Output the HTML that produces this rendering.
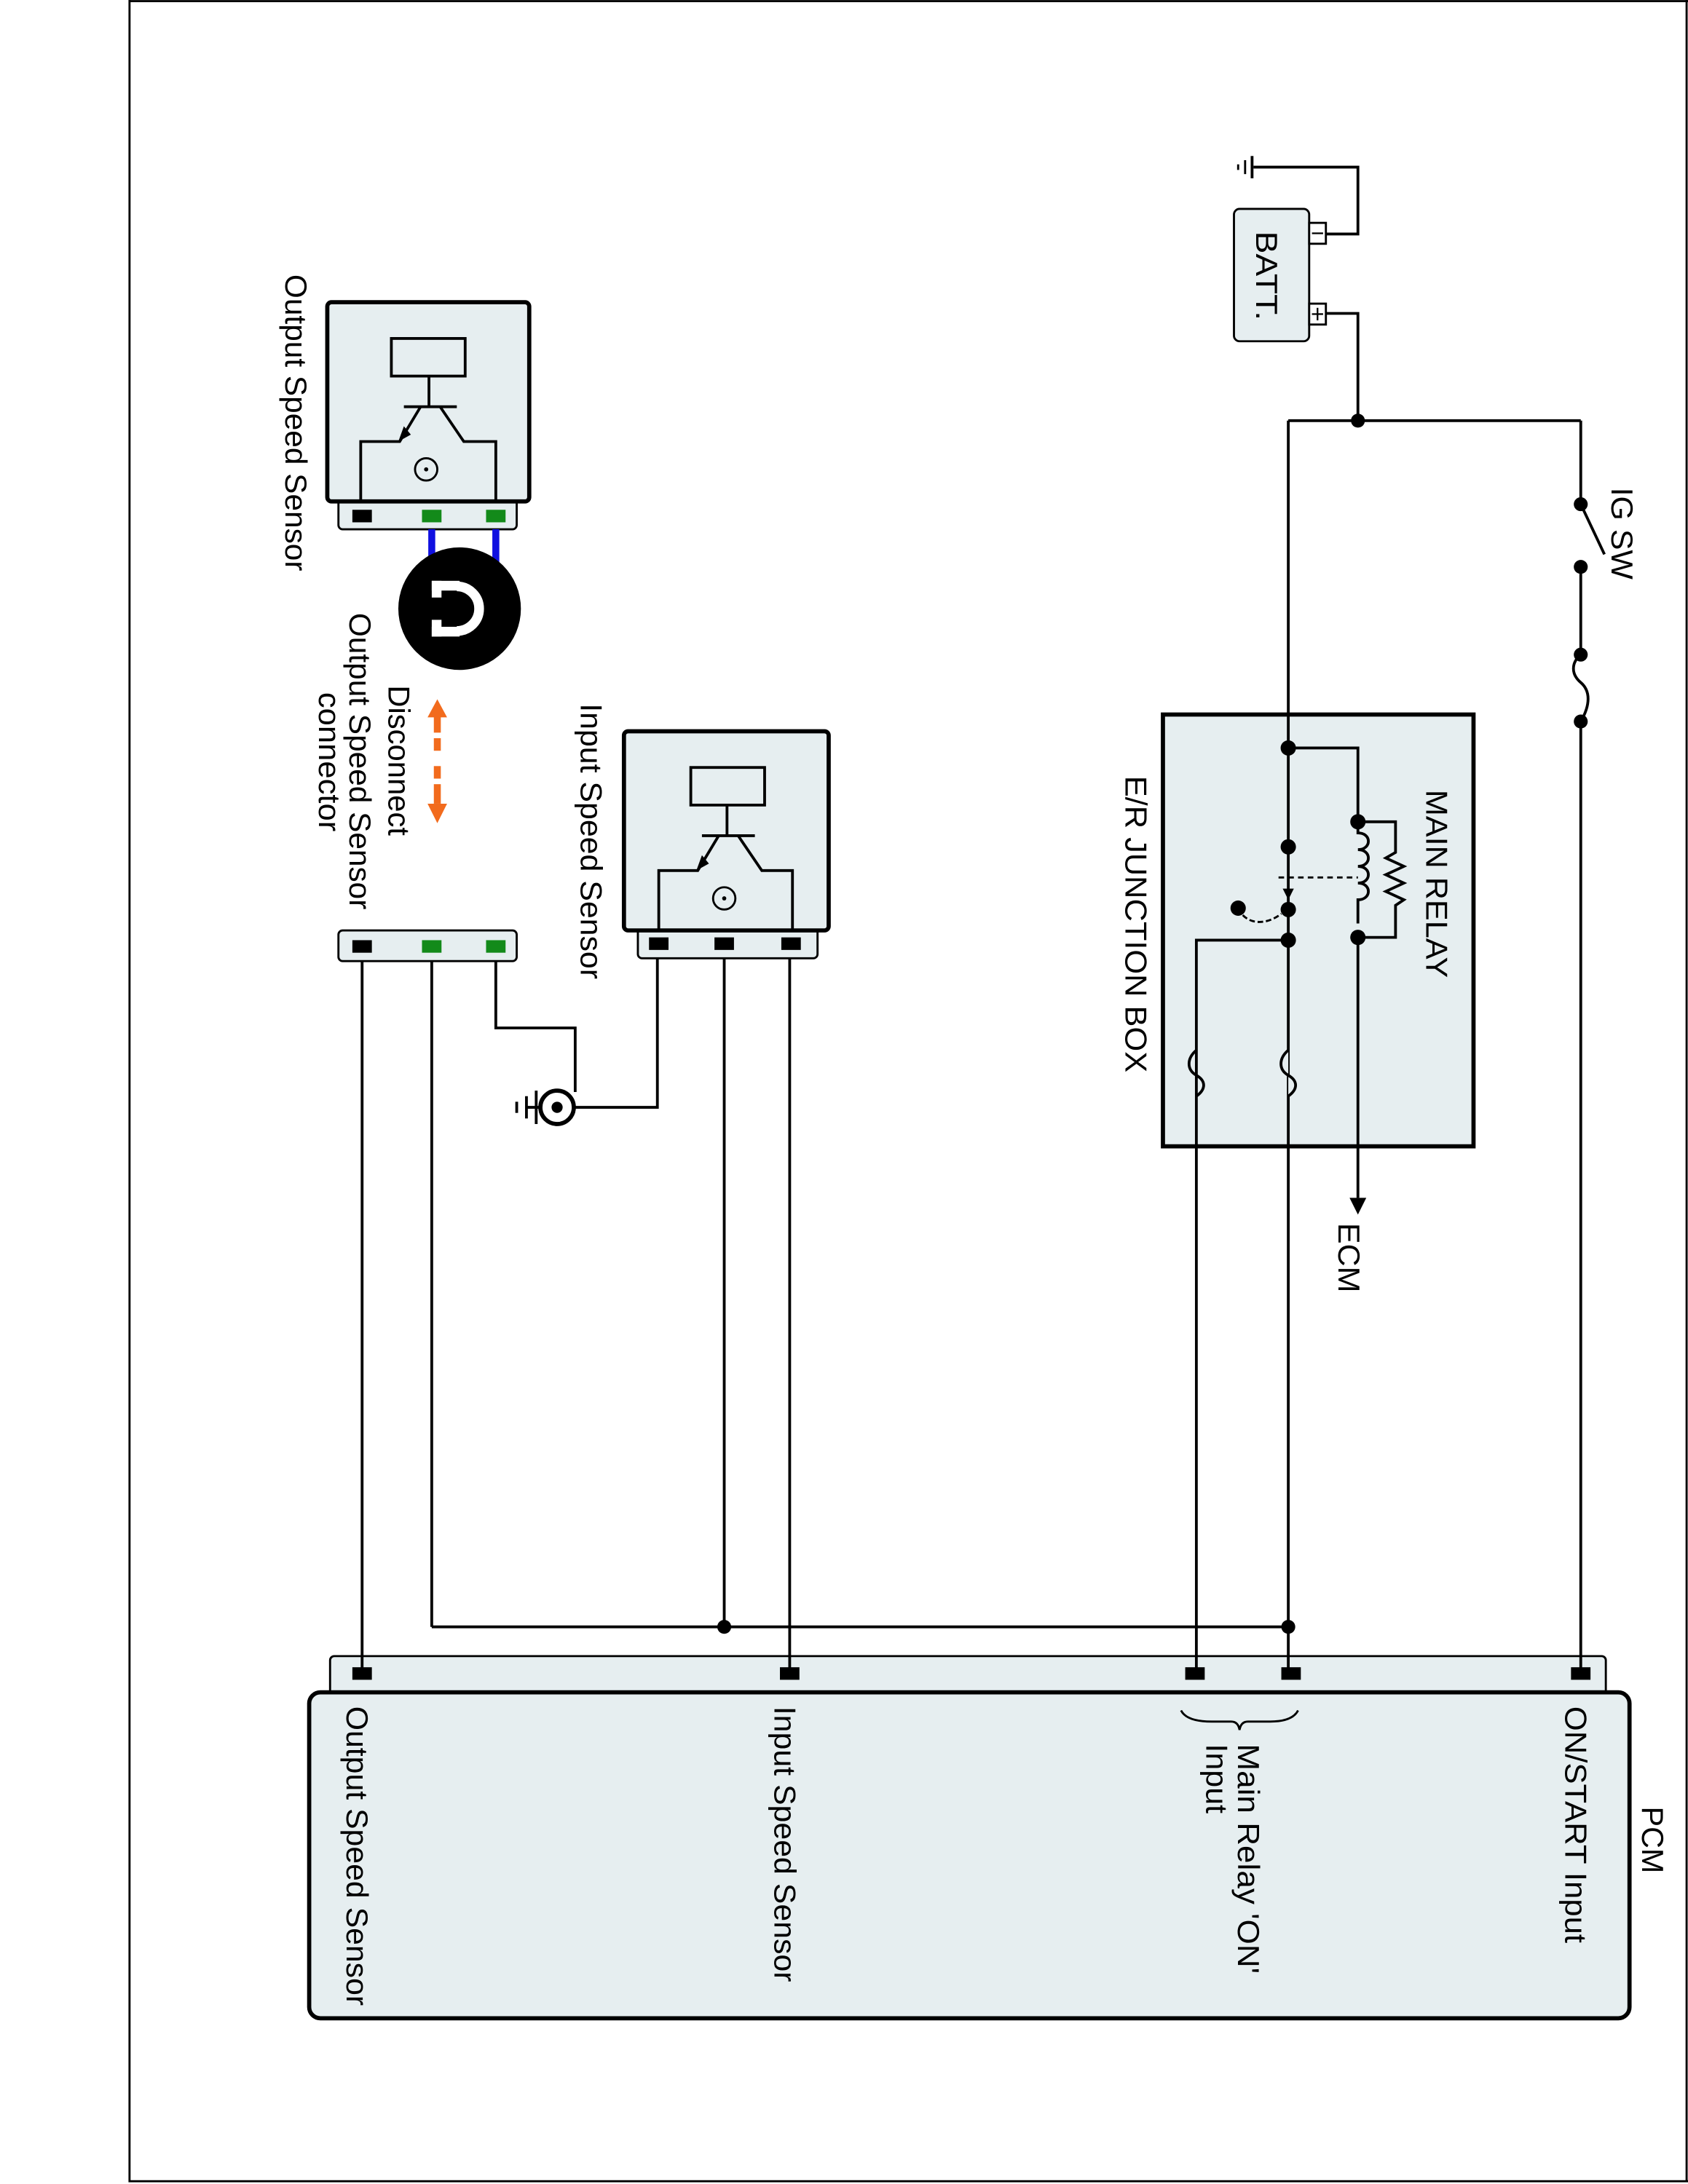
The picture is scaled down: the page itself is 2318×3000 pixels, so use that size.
<!DOCTYPE html>
<html><head><meta charset="utf-8"><style>
html,body{margin:0;padding:0;background:#fff;}
svg{display:block;}
text{font-family:"Liberation Sans",Arial,sans-serif;font-size:22px;fill:#000;}
</style></head><body>
<svg width="2318" height="3000" viewBox="0 0 1212 1568" preserveAspectRatio="none" xmlns="http://www.w3.org/2000/svg">
<rect x="0" y="0" width="1212" height="1568" fill="#fff"/>
<polyline points="93,0 93,1566 1212,1566" fill="none" stroke="#000" stroke-width="1.5"/>
<line x1="93" y1="0.8" x2="1212" y2="0.8" stroke="#000" stroke-width="1.5"/>
<line x1="1211" y1="0" x2="1211" y2="1566" stroke="#000" stroke-width="1.5"/>

<g fill="none" stroke="#000" stroke-width="2">
<rect x="237" y="1189" width="916" height="28" rx="3" fill="#e6eef0" stroke-width="1.5"/>
<rect x="222" y="1215" width="948" height="234" rx="8" fill="#e6eef0" stroke-width="3"/>
<rect x="835" y="513" width="223" height="310" fill="#e6eef0" stroke-width="3"/>

<polyline points="952,168 975,168 975,120 900,120"/>
<polyline points="952,225 975,225 975,302"/>
<line x1="925" y1="302" x2="1135" y2="302"/>
<line x1="925" y1="302" x2="925" y2="1201"/>
<line x1="1135" y1="302" x2="1135" y2="362"/>
<line x1="1135" y1="362" x2="1152" y2="398"/>
<line x1="1135" y1="407" x2="1135" y2="470"/>
<path d="M1135,470 C1128,476 1128,484 1135,490 C1142,496 1142,506 1135,518"/>
<line x1="1135" y1="518" x2="1135" y2="1201"/>

<polyline points="925,537 975,537 975,590"/>
<polyline points="975,590 1002,590 1002,612 995,616 1008,622 995,628 1008,634 995,640 1008,646 1002,650 1002,673 975,673"/>
<path d="M975,590 v8 c10,0 10,12 0,12 c10,0 10,12 0,12 c10,0 10,12 0,12 c10,0 10,12 0,12 v17" />
<line x1="975" y1="673" x2="975" y2="860"/>
<line x1="918" y1="630" x2="975" y2="630" stroke-dasharray="4,3" stroke-width="1.5"/>
<path d="M889,652 C895,665 910,664 920,656" stroke-dasharray="4,2" stroke-width="1.5"/>
<polyline points="925,675 859,675 859,1201"/>
<path d="M859,754 C852,760 852,768 859,772 C866,776 866,782 859,787"/>
<path d="M925,754 C918,760 918,768 925,772 C932,776 932,782 925,787" fill="#e6eef0"/>

<line x1="310" y1="1168" x2="925" y2="1168"/>
<line x1="567" y1="686" x2="567" y2="1201"/>
<line x1="520" y1="686" x2="520" y2="1168"/>
<polyline points="472,686 472,795 412,795"/>
<line x1="260" y1="690" x2="260" y2="1201"/>
<line x1="310" y1="690" x2="310" y2="1168"/>
<polyline points="356,690 356,738 413,738 413,784"/>

<rect x="886" y="150" width="54" height="95" rx="4" fill="#e6eef0" stroke-width="1.5"/>
<rect x="940" y="160" width="12" height="15" fill="#fff" stroke-width="1.5"/>
<rect x="940" y="218" width="12" height="15" fill="#fff" stroke-width="1.5"/>
<line x1="942" y1="167.5" x2="950" y2="167.5" stroke-width="1.2"/>
<line x1="942" y1="225.5" x2="950" y2="225.5" stroke-width="1.2"/>
<line x1="946" y1="221" x2="946" y2="230" stroke-width="1.2"/>
<line x1="899" y1="112" x2="899" y2="128"/>
<line x1="894" y1="115" x2="894" y2="125" stroke-width="1.5"/>
<line x1="889" y1="118" x2="889" y2="122" stroke-width="1.5"/>

<circle cx="400" cy="795" r="12" stroke-width="3"/>
<line x1="388" y1="795" x2="378" y2="795"/>
<line x1="385" y1="783" x2="385" y2="807"/>
<line x1="378" y1="787" x2="378" y2="803"/>
<line x1="371" y1="791" x2="371" y2="799"/>
</g>
<circle cx="400" cy="795" r="4" fill="#000"/>

<g fill="none" stroke="#000" stroke-width="2">
<rect x="243" y="358" width="128" height="22" rx="3" fill="#e6eef0" stroke-width="1.5"/>
<rect x="235" y="217" width="145" height="143" rx="3" fill="#e6eef0" stroke-width="3"/>
<rect x="281" y="243" width="53" height="27"/>
<line x1="308" y1="270" x2="308" y2="292"/>
<line x1="290" y1="292" x2="328" y2="292"/>
<polyline points="302,292 287,317 259,317 259,360"/>
<polyline points="316,292 333,317 356,317 356,360"/>
<circle cx="306" cy="337" r="8" stroke-width="1.5"/>
<line x1="310" y1="380" x2="310" y2="405" stroke="#1010e0" stroke-width="5"/>
<line x1="356" y1="380" x2="356" y2="405" stroke="#1010e0" stroke-width="5"/>
</g>
<polygon points="286,317 290,306 295,312" fill="#000"/>
<circle cx="306" cy="337" r="1.5" fill="#000"/>
<rect x="253" y="366" width="14" height="9" fill="#000"/>
<rect x="303" y="366" width="14" height="9" fill="#138a1a"/>
<rect x="349" y="366" width="14" height="9" fill="#138a1a"/>
<circle cx="330" cy="437" r="44" fill="#000"/>
<path d="M328,421 A16,16 0 1 1 328,453" fill="none" stroke="#fff" stroke-width="7"/>
<rect x="310" y="417" width="20" height="7" fill="#fff"/>
<rect x="310" y="450" width="20" height="7" fill="#fff"/>
<rect x="310" y="417" width="7" height="12" fill="#fff"/>
<rect x="310" y="445" width="7" height="12" fill="#fff"/>

<g fill="none" stroke="#000" stroke-width="2">
<rect x="458" y="666" width="129" height="22" rx="3" fill="#e6eef0" stroke-width="1.5"/>
<rect x="448" y="525" width="147" height="143" rx="3" fill="#e6eef0" stroke-width="3"/>
<rect x="496" y="551" width="53" height="27"/>
<line x1="522" y1="578" x2="522" y2="600"/>
<line x1="504" y1="600" x2="542" y2="600"/>
<polyline points="516,600 501,625 473,625 473,668"/>
<polyline points="530,600 547,625 569,625 569,668"/>
<circle cx="520" cy="645" r="8" stroke-width="1.5"/>
</g>
<polygon points="500,625 504,614 509,620" fill="#000"/>
<circle cx="520" cy="645" r="1.5" fill="#000"/>
<rect x="466" y="673" width="14" height="9" fill="#000"/>
<rect x="513" y="673" width="14" height="9" fill="#000"/>
<rect x="561" y="673" width="14" height="9" fill="#000"/>

<rect x="243" y="668" width="128" height="22" rx="3" fill="#e6eef0" stroke="#000" stroke-width="1.5"/>
<rect x="253" y="675" width="14" height="9" fill="#000"/>
<rect x="303" y="675" width="14" height="9" fill="#138a1a"/>
<rect x="349" y="675" width="14" height="9" fill="#138a1a"/>

<g fill="#f26b1d">
<polygon points="314,502 307,515 321,515"/>
<rect x="311.5" y="514" width="5" height="12"/>
<rect x="311.5" y="530" width="5" height="9"/>
<rect x="311.5" y="550" width="5" height="9"/>
<rect x="311.5" y="563" width="5" height="14"/>
<polygon points="314,591 307,577 321,577"/>
</g>

<g fill="#000">
<rect x="253" y="1197" width="14" height="9"/>
<rect x="560" y="1197" width="14" height="9"/>
<rect x="851" y="1197" width="14" height="9"/>
<rect x="920" y="1197" width="14" height="9"/>
<rect x="1128" y="1197" width="14" height="9"/>
<circle cx="975" cy="302" r="5"/>
<circle cx="1135" cy="362" r="5"/>
<circle cx="1135" cy="407" r="5"/>
<circle cx="1135" cy="470" r="5"/>
<circle cx="1135" cy="518" r="5"/>
<circle cx="925" cy="537" r="5.5"/>
<circle cx="975" cy="590" r="5.5"/>
<circle cx="925" cy="608" r="5.5"/>
<circle cx="925" cy="653" r="5.5"/>
<circle cx="925" cy="675" r="5.5"/>
<circle cx="975" cy="673" r="5.5"/>
<circle cx="889" cy="652" r="5.5"/>
<circle cx="925" cy="1168" r="5"/>
<circle cx="520" cy="1168" r="5"/>
<polygon points="921,638 929,638 925,646"/>
<polygon points="969,860 981,860 975,872"/>
</g>
<path d="M848,1228 Q852,1236 870,1236 L884,1236 Q889,1236 890,1242 Q891,1236 896,1236 L912,1236 Q928,1236 932,1228" fill="none" stroke="#000" stroke-width="1.5"/>

<g>
<text transform="translate(205,197) rotate(90)" textLength="213" lengthAdjust="spacingAndGlyphs">Output Speed Sensor</text>
<text transform="translate(279,492) rotate(90)" textLength="108" lengthAdjust="spacingAndGlyphs">Disconnect</text>
<text transform="translate(251,440) rotate(90)" textLength="213" lengthAdjust="spacingAndGlyphs">Output Speed Sensor</text>
<text transform="translate(229,497) rotate(90)" textLength="100" lengthAdjust="spacingAndGlyphs">connector</text>
<text transform="translate(417,505) rotate(90)" textLength="198" lengthAdjust="spacingAndGlyphs">Input Speed Sensor</text>
<text transform="translate(1024,567) rotate(90)" textLength="135" lengthAdjust="spacingAndGlyphs">MAIN RELAY</text>
<text transform="translate(808,557) rotate(90)" textLength="213" lengthAdjust="spacingAndGlyphs">E/R JUNCTION BOX</text>
<text transform="translate(961,878) rotate(90)" textLength="50" lengthAdjust="spacingAndGlyphs">ECM</text>
<text transform="translate(1157,350) rotate(90)" textLength="66" lengthAdjust="spacingAndGlyphs">IG SW</text>
<text transform="translate(902,166) rotate(90)" textLength="64" lengthAdjust="spacingAndGlyphs">BATT.</text>
<text transform="translate(1179,1297) rotate(90)" textLength="48" lengthAdjust="spacingAndGlyphs">PCM</text>
<text transform="translate(1124,1225) rotate(90)" textLength="170" lengthAdjust="spacingAndGlyphs">ON/START Input</text>
<text transform="translate(889,1252) rotate(90)" textLength="165" lengthAdjust="spacingAndGlyphs">Main Relay 'ON'</text>
<text transform="translate(866,1252) rotate(90)" textLength="50" lengthAdjust="spacingAndGlyphs">Input</text>
<text transform="translate(556,1225) rotate(90)" textLength="198" lengthAdjust="spacingAndGlyphs">Input Speed Sensor</text>
<text transform="translate(249,1225) rotate(90)" textLength="215" lengthAdjust="spacingAndGlyphs">Output Speed Sensor</text>
</g>
</svg>
</body></html>
